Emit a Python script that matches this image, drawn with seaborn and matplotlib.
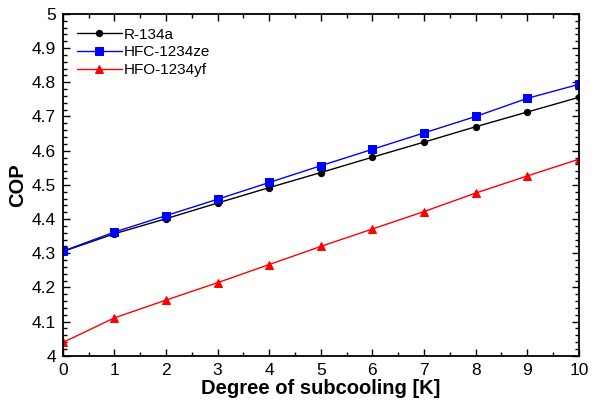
import numpy as np
import pandas as pd
import matplotlib
matplotlib.use("Agg")
from matplotlib import pyplot as plt
from matplotlib.ticker import MultipleLocator
import seaborn as sns

# Data
subcooling = [0, 1, 2, 3, 4, 5, 6, 7, 8, 9, 10]
cop_r134a = [4.305, 4.357, 4.401, 4.447, 4.492, 4.536, 4.581, 4.625, 4.670, 4.713, 4.756]
cop_1234ze = [4.306, 4.362, 4.410, 4.458, 4.507, 4.556, 4.604, 4.652, 4.700, 4.753, 4.794]
cop_1234yf = [4.039, 4.111, 4.163, 4.214, 4.267, 4.320, 4.371, 4.422, 4.476, 4.526, 4.575]
labels = ["R-134a", "HFC-1234ze", "HFO-1234yf"]

df = pd.DataFrame(
    {
        "x": subcooling * 3,
        "COP": cop_r134a + cop_1234ze + cop_1234yf,
        "fluid": [labels[0]] * 11 + [labels[1]] * 11 + [labels[2]] * 11,
    }
)

sns.set_style("ticks")
plt.rcParams["font.family"] = ["Liberation Sans", "DejaVu Sans"]
plt.rcParams["text.color"] = "black"
plt.rcParams["axes.labelcolor"] = "black"
plt.rcParams["xtick.color"] = "black"
plt.rcParams["ytick.color"] = "black"
plt.rcParams["axes.edgecolor"] = "black"

fig = plt.figure(figsize=(5.98, 4.09), dpi=100)
ax = fig.add_axes([0.105, 0.130, 0.863, 0.836])

colors = ["black", "blue", "red"]
markers = ["o", "s", "^"]
sizes = [4.5, 6, 5.5]
for lab, c, m, s in zip(labels, colors, markers, sizes):
    sns.lineplot(
        data=df[df["fluid"] == lab],
        x="x",
        y="COP",
        color=c,
        marker=m,
        markersize=s,
        markeredgecolor=c,
        linewidth=1,
        label=lab,
        ax=ax,
    )

ax.set_xlim(0, 10)
ax.set_ylim(4, 5)
ax.xaxis.set_major_locator(MultipleLocator(1))
ax.xaxis.set_minor_locator(MultipleLocator(0.5))
ax.yaxis.set_major_locator(MultipleLocator(0.1))
ax.yaxis.set_minor_locator(MultipleLocator(0.02))
ax.set_yticks(np.arange(4, 5.01, 0.1))
ax.set_yticklabels(["4", "4.1", "4.2", "4.3", "4.4", "4.5", "4.6", "4.7", "4.8", "4.9", "5"])
ax.tick_params(which="both", direction="in", top=True, right=True, labelsize=12.5, width=1)
ax.tick_params(which="major", length=5, pad=5)
ax.tick_params(which="minor", length=3)
for sp in ax.spines.values():
    sp.set_linewidth(1.3)

ax.set_xlabel("Degree of subcooling [K]", fontsize=14.5, fontweight="bold", labelpad=1)
ax.set_ylabel("COP", fontsize=14.5, fontweight="bold", labelpad=3)

leg = ax.legend(
    loc="upper left",
    frameon=False,
    fontsize=11,
    handlelength=3.0,
    handletextpad=0.1,
    labelspacing=0.25,
    borderaxespad=0.5,
)
for t in leg.get_texts():
    t.set_color("black")

fig.savefig("out.png", dpi=100)
